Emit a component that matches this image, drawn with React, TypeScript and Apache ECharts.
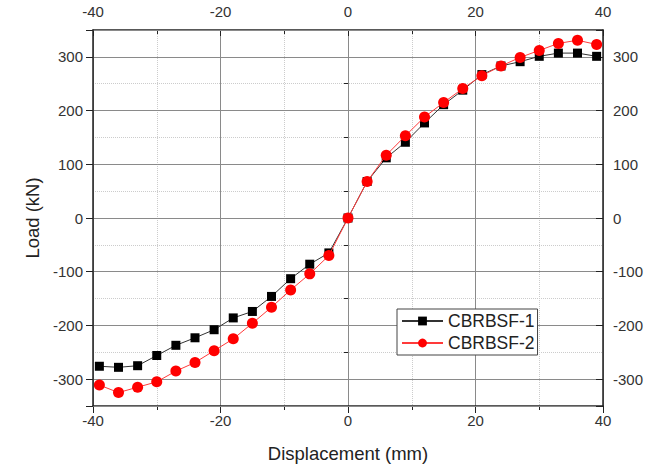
import React, { useEffect, useRef } from "react";
import * as echarts from "echarts";

const displacement = [-39, -36, -33, -30, -27, -24, -21, -18, -15, -12, -9, -6, -3, 0, 3, 6, 9, 12, 15, 18, 21, 24, 27, 30, 33, 36, 39];
const loadCBRBSF1 = [-276, -278, -275, -256, -237, -223, -208, -186, -174, -146, -113, -86, -65, 0, 68, 112, 141, 177, 211, 238, 267, 283, 291, 301, 307, 307, 301];
const loadCBRBSF2 = [-311, -325, -315, -305, -285, -269, -247, -225, -196, -166, -134, -104, -70, 0, 68, 117, 153, 188, 215, 241, 265, 283, 299, 312, 325, 331, 323];
const seriesNames = ["CBRBSF-1", "CBRBSF-2"];

const FONT = "Liberation Sans, Arial, sans-serif";
const TXT = "#333";
const AX = "#222";

export default function App() {
  const ref = useRef<HTMLDivElement>(null);
  useEffect(() => {
    if (!ref.current) return;
    const chart = echarts.init(ref.current, undefined, { renderer: "svg" });
    const pair = (ys: number[]) => displacement.map((x, i) => [x, ys[i]]);
    const axisLine = { show: true, onZero: false, lineStyle: { color: AX, width: 1.5 } };
    const lab = { color: TXT, fontSize: 15, fontFamily: FONT };
    chart.setOption({
      animation: false,
      backgroundColor: "#fff",
      grid: { left: 93, right: 55, top: 30, bottom: 61, containLabel: false },
      legend: {
        data: seriesNames,
        left: 397,
        top: 309,
        orient: "vertical",
        backgroundColor: "#fff",
        borderColor: "#444",
        borderWidth: 1,
        borderRadius: 0,
        padding: [3, 3, 3, 4],
        itemGap: 4,
        itemWidth: 41,
        itemHeight: 11,
        textStyle: { color: "#222", fontSize: 17.5, fontFamily: FONT },
      },
      xAxis: [
        {
          type: "value",
          position: "bottom",
          min: -40,
          max: 40,
          interval: 20,
          name: "Displacement (mm)",
          nameLocation: "middle",
          nameGap: 38,
          nameTextStyle: { color: "#222", fontSize: 18.5, fontFamily: FONT },
          axisLine,
          axisTick: { show: true, inside: false, length: 7, lineStyle: { color: AX } },
          minorTick: { show: true, splitNumber: 2, length: 4, lineStyle: { color: AX } },
          axisLabel: { ...lab, margin: 7 },
          splitLine: { show: true, lineStyle: { color: "#8a8a8a", width: 1 } },
          minorSplitLine: { show: true, lineStyle: { color: "#ccc", type: "dotted", width: 1 } },
        },
        {
          type: "value",
          position: "top",
          min: -40,
          max: 40,
          interval: 20,
          axisLine,
          axisTick: { show: true, inside: true, length: 6, lineStyle: { color: AX } },
          minorTick: { show: true, splitNumber: 2, length: 4, lineStyle: { color: AX } },
          axisLabel: { ...lab, margin: 11 },
          splitLine: { show: false },
        },
      ],
      yAxis: [
        {
          type: "value",
          position: "left",
          min: -350,
          max: 350,
          splitNumber: 7,
          name: "Load (kN)",
          nameLocation: "middle",
          nameGap: 47,
          nameTextStyle: { color: "#222", fontSize: 18.5, fontFamily: FONT },
          z: 2,
          axisLine,
          axisTick: { show: true, inside: false, length: 7, lineStyle: { color: AX } },
          axisLabel: {
            ...lab,
            margin: 10,
            formatter: (v: number) => (Math.abs(v) === 350 ? "" : String(v)),
          },
          splitLine: { show: true, lineStyle: { color: "#8a8a8a", width: 1 } },
        },
        {
          type: "value",
          position: "right",
          min: -350,
          max: 350,
          splitNumber: 7,
          z: 2,
          axisLine,
          axisTick: { show: true, inside: true, length: 7, lineStyle: { color: AX } },
          axisLabel: {
            ...lab,
            margin: 10,
            formatter: (v: number) => (Math.abs(v) === 350 ? "" : String(v)),
          },
          splitLine: { show: false },
        },
        {
          type: "value",
          position: "left",
          min: -350,
          max: 350,
          interval: 50,
          z: 0,
          axisLine: { show: false },
          axisTick: { show: true, inside: false, length: 4, lineStyle: { color: AX } },
          axisLabel: { show: false },
          splitLine: { show: true, lineStyle: { color: "#ccc", type: "dotted", width: 1 } },
        },
        {
          type: "value",
          position: "right",
          min: -350,
          max: 350,
          interval: 50,
          z: 0,
          axisLine: { show: false },
          axisTick: { show: true, inside: true, length: 4, lineStyle: { color: AX } },
          axisLabel: { show: false },
          splitLine: { show: false },
        },
      ],
      series: [
        {
          name: seriesNames[0],
          type: "line",
          data: pair(loadCBRBSF1),
          symbol: "rect",
          symbolSize: 9,
          color: "#000",
          lineStyle: { color: "#333", width: 1 },
          itemStyle: { color: "#000" },
          z: 3,
        },
        {
          name: seriesNames[1],
          type: "line",
          data: pair(loadCBRBSF2),
          symbol: "circle",
          symbolSize: 11,
          color: "#ff0000",
          lineStyle: { color: "#ff3a3a", width: 1 },
          itemStyle: { color: "#ff0000" },
          z: 4,
        },
      ],
    });
    return () => chart.dispose();
  }, []);
  return <div ref={ref} style={{ width: 658, height: 468, position: "absolute", left: 0, top: 0 }} />;
}
